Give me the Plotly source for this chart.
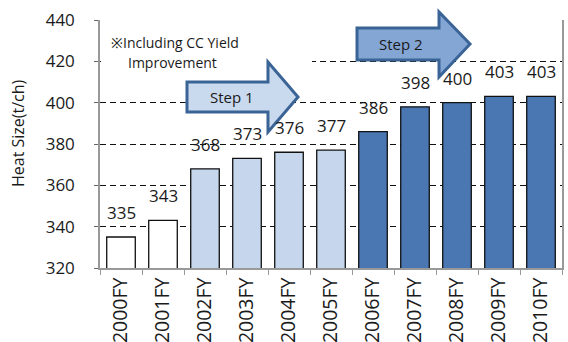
import plotly.graph_objects as go

# Heat size by fiscal year
years = ["2000FY", "2001FY", "2002FY", "2003FY", "2004FY", "2005FY",
         "2006FY", "2007FY", "2008FY", "2009FY", "2010FY"]
heat_size = [335, 343, 368, 373, 376, 377, 386, 398, 400, 403, 403]
phase = ["base", "base", "step1", "step1", "step1", "step1",
         "step2", "step2", "step2", "step2", "step2"]
y_ticks = [320, 340, 360, 380, 400, 420, 440]

phase_colors = {"base": "#ffffff", "step1": "#c6d7ed", "step2": "#4a77b2"}

W, H = 568, 342
L, R, T, B = 100, 6, 20, 74
PW, PH = W - L - R, H - T - B

FONT = "Open Sans"


def px(x, y):
    """Pixel position -> paper coordinates."""
    return (x - L) / PW, (H - B - y) / PH


def block_arrow(x0, body_top, body_bot, head_x, head_top, head_bot, tip_x):
    mid = (body_top + body_bot) / 2
    pts = [(x0, body_top), (head_x, body_top), (head_x, head_top), (tip_x, mid),
           (head_x, head_bot), (head_x, body_bot), (x0, body_bot)]
    p = [px(a, b) for a, b in pts]
    return "M " + " L ".join(f"{a:.4f},{b:.4f}" for a, b in p) + " Z"


def note(text, x, y, size, xanchor="left", angle=0):
    ax, ay = px(x, y)
    return dict(x=ax, y=ay, xref="paper", yref="paper", xanchor=xanchor,
                yanchor="middle", showarrow=False, text=text, textangle=angle,
                font=dict(family=FONT, size=size, color="#1a1a1a"))


fig = go.Figure()
fig.add_trace(go.Bar(
    x=years, y=heat_size,
    marker=dict(color=[phase_colors[p] for p in phase],
                line=dict(color="#111111", width=1.3)),
    width=0.68,
    hoverinfo="x+y",
))

annotations = []
for yr, v in zip(years, heat_size):
    annotations.append(dict(x=yr, y=v, xref="x", yref="y", text=str(v),
                            showarrow=False, yanchor="bottom", yshift=11,
                            font=dict(family=FONT, size=17, color="#1a1a1a")))

annotations += [
    note("※Including CC Yield", 109, 42, 14),
    note("Improvement", 126, 63, 14),
    note("Heat Size(t/ch)", 18, 133, 16, xanchor="center", angle=-90),
    note("Step 1", 232, 97, 15, xanchor="center"),
    note("Step 2", 401, 44, 15, xanchor="center"),
]

x0, y0 = px(101, 27)
x1, y1 = px(312, 74)
shapes = [
    # white panel behind the note
    dict(type="rect", xref="paper", yref="paper", x0=x0, x1=x1, y0=y1, y1=y0,
         fillcolor="white", line=dict(width=0), layer="above"),
    # step arrows
    dict(type="path", xref="paper", yref="paper",
         path=block_arrow(187, 82, 112, 268, 62, 132, 298),
         fillcolor="#c9d9ee", line=dict(color="#3b6496", width=3), layer="above"),
    dict(type="path", xref="paper", yref="paper",
         path=block_arrow(357, 28, 60, 439, 12, 77, 470),
         fillcolor="#84a6d5", line=dict(color="#3b6496", width=3), layer="above"),
]

fig.update_layout(
    width=W, height=H,
    margin=dict(l=L, r=R, t=T, b=B, autoexpand=False),
    paper_bgcolor="white", plot_bgcolor="white",
    showlegend=False,
    bargap=0.32,
    annotations=annotations,
    shapes=shapes,
    font=dict(family=FONT, color="#1a1a1a"),
)
fig.update_xaxes(
    type="category", tickangle=-90, tickson="boundaries",
    ticks="outside", ticklen=5, tickcolor="#999999",
    showline=True, linecolor="#999999", linewidth=1.5,
    showgrid=False, automargin=False,
    tickfont=dict(family=FONT, size=19.5, color="#1a1a1a"),
)
fig.update_yaxes(
    range=[320, 440], tickvals=y_ticks,
    ticks="outside", ticklen=4, tickcolor="#666666",
    showline=True, linecolor="#999999", linewidth=1.5, mirror=True,
    showgrid=True, gridcolor="#111111", gridwidth=1.4, griddash="6px,4px",
    zeroline=False, automargin=False, ticklabelstandoff=16,
    tickfont=dict(family=FONT, size=17, color="#1a1a1a"),
)

fig.write_html("out.html")
